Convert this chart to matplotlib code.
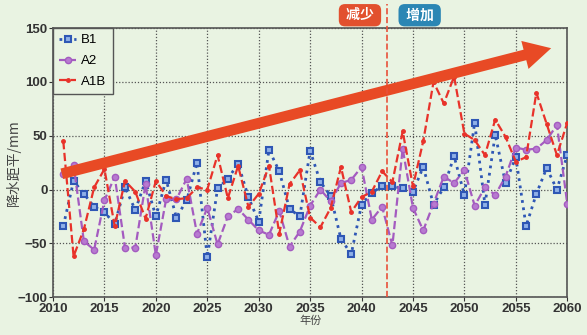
import matplotlib
matplotlib.use("Agg")
import matplotlib.pyplot as plt
from matplotlib import rcParams
from matplotlib.patches import FancyArrowPatch

rcParams['font.family'] = ['Liberation Sans', 'Noto Sans CJK SC', 'DejaVu Sans']
rcParams['font.size'] = 9

BG = '#e9f3e2'

years = list(range(2011, 2061))

b1 = [-34, 8, -4, -16, -21, -32, 2, -19, 8, -25,
      9, -26, -10, 25, -63, 1, 10, 24, -7, -30,
      37, 17, -18, -25, 36, 7, -6, -46, -60, -14,
      -3, 3, 3, 1, -2, 21, -14, 2, 31, -5,
      62, -14, 51, 6, 30, -34, -4, 20, 0, 32]

a2 = [14, 23, -48, -56, -10, 12, -54, -54, 5, -61,
      -9, -9, 10, -41, -17, -51, -25, -18, -28, -38,
      -42, -20, -53, -39, -15, 0, -11, 6, 9, 21,
      -28, -16, -52, 38, -17, -38, -13, 12, 6, 18,
      -15, 2, -5, 12, 39, 37, 38, 46, 60, -13]

a1b = [45, -62, -37, 2, 19, -34, 8, -2, -27, 8,
       -6, -9, -8, 2, 0, 32, -8, 22, -16, -4,
       22, -41, 5, 18, -26, -35, -17, 21, -21, -7,
       -2, 17, 7, 54, 3, 45, 100, 80, 105, 52,
       46, 32, 65, 49, 26, 30, 90, 61, 32, 62]

xticks = list(range(2010, 2061, 5))
yticks = [-100, -50, 0, 50, 100, 150]

split_year = 2042.5
trend_start = (2010.6, 14)
trend_end = (2058.7, 132)

fig = plt.figure(figsize=(5.87, 3.35), dpi=100, facecolor=BG)
ax = fig.add_axes([0.0903, 0.113, 0.876, 0.803], facecolor=BG)

ax.plot(years, b1, ':', color='#2f57b5', lw=2, marker='s', ms=5,
        mfc='#8fb0e8', mec='#2f57b5', mew=1.5, label='B1', zorder=3)
ax.plot(years, a2, '--', color='#a45bc0', lw=1.6, marker='o', ms=4.5,
        mfc='#b77ad0', mec='#a45bc0', label='A2', zorder=3)
ax.plot(years, a1b, '--', color='#e8322a', lw=1.6, marker='o', ms=2.5,
        mfc='#e8322a', mec='#e8322a', label='A1B', zorder=4)

# trend arrow across the whole period
arrow = FancyArrowPatch(trend_start, trend_end,
                        arrowstyle='simple,tail_width=0.6,head_width=1.6,head_length=1.5',
                        mutation_scale=13, color='#e84a25', lw=0, zorder=5)
ax.add_patch(arrow)

ax.plot([split_year, split_year], [-100, 172], '--', color='#e8503a',
        lw=1.2, clip_on=False, zorder=6)

box_font = ['Noto Sans CJK SC', 'DejaVu Sans']
ax.text(split_year - 1.0, 162, ' 减少 ', ha='right', va='center', color='white',
        fontsize=10, fontweight='bold', family=box_font,
        bbox=dict(boxstyle='round,pad=0.3,rounding_size=0.45', fc='#e2502e', ec='none'))
ax.text(split_year + 1.5, 162, ' 增加 ', ha='left', va='center', color='white',
        fontsize=10, fontweight='bold', family=box_font,
        bbox=dict(boxstyle='round,pad=0.3,rounding_size=0.45', fc='#2b86b4', ec='none'))

ax.set_xlim(2010, 2060)
ax.set_ylim(-100, 150)
ax.set_xticks(xticks)
ax.set_yticks(yticks)
ax.grid(True, color='#555555', linestyle=(0, (1, 1.5)), lw=0.9)
ax.tick_params(direction='out', length=3, colors='#333333', labelsize=9.5, pad=1)
for lab in ax.get_xticklabels() + ax.get_yticklabels():
    lab.set_fontweight('bold')
for s in ax.spines.values():
    s.set_color('#555555')
    s.set_linewidth(1.2)

ax.set_ylabel('降水距平/mm', fontsize=10, color='#444444',
              family=['Noto Sans CJK SC'])
ax.yaxis.set_label_coords(-0.063, 0.5)
ax.set_xlabel('年份', fontsize=8, color='#444444',
              family=['Noto Sans CJK SC'], labelpad=1)

leg = ax.legend(loc='upper left', borderaxespad=0, fancybox=False,
                handlelength=1.3, handletextpad=0.4, labelspacing=0.65,
                borderpad=0.45, fontsize=9.5, facecolor=BG, framealpha=1)
leg.get_frame().set_edgecolor('#555555')
leg.get_frame().set_linewidth(1.0)

fig.savefig('out.png', dpi=100, facecolor=BG)
